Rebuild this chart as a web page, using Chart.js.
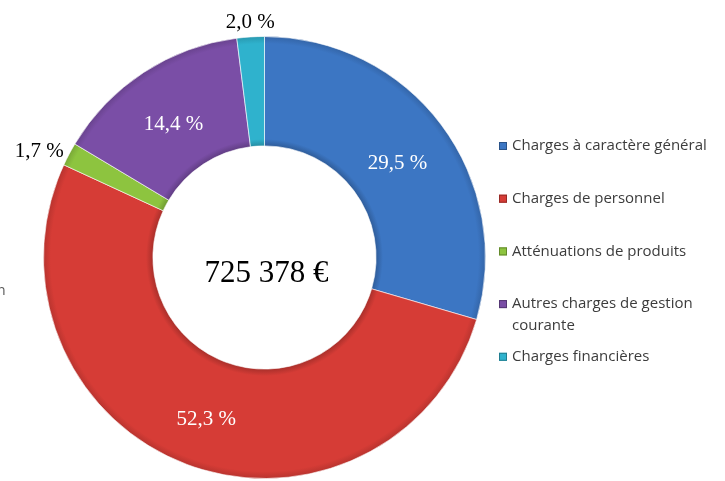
<!DOCTYPE html>
<html>
<head>
<meta charset="utf-8">
<script src="https://cdn.jsdelivr.net/npm/chart.js@4"></script>
<style>
  html, body { margin: 0; padding: 0; background: #fff; }
  canvas { display: block; }
</style>
</head>
<body>
<canvas id="chart" width="725" height="481"></canvas>
<script>
// values (share of the total, in %)
const categories = [
  'Charges à caractère général',
  'Charges de personnel',
  'Atténuations de produits',
  'Autres charges de gestion courante',
  'Charges financières'
];
const shares = [29.5, 52.3, 1.7, 14.4, 2.0];
const total = 725378;

const colors = ['#3c76c3', '#d63c36', '#8dc43f', '#7a4ea6', '#2fb2cd'];

function fmtPct(v) {
  return v.toFixed(1).replace('.', ',') + ' %';
}
function fmtTotal(v) {
  return String(v).replace(/\B(?=(\d{3})+(?!\d))/g, ' ') + ' €';
}

function shade(hex, f) {
  const n = parseInt(hex.slice(1), 16);
  let r = n >> 16, g = (n >> 8) & 255, b = n & 255;
  r = Math.round(r * f); g = Math.round(g * f); b = Math.round(b * f);
  return `rgb(${Math.min(r, 255)},${Math.min(g, 255)},${Math.min(b, 255)})`;
}

// labels on / around the ring + total in the hole
const labelsPlugin = {
  id: 'ringLabels',
  afterDatasetsDraw(chart) {
    const ctx = chart.ctx;
    const meta = chart.getDatasetMeta(0);
    ctx.save();
    meta.data.forEach((arc, i) => {
      const p = arc.getProps(['x', 'y', 'startAngle', 'endAngle', 'innerRadius', 'outerRadius'], true);
      const mid = (p.startAngle + p.endAngle) / 2;
      const dx = Math.cos(mid), dy = Math.sin(mid);
      const txt = fmtPct(shares[i]);
      ctx.font = '21px "Liberation Serif", serif';
      if (shares[i] >= 5) {
        const r = (p.innerRadius + p.outerRadius) / 2;
        ctx.fillStyle = '#ffffff';
        ctx.textAlign = 'center';
        ctx.textBaseline = 'middle';
        ctx.fillText(txt, p.x + dx * r, p.y + dy * r + 6);
      } else {
        const r = p.outerRadius + 6;
        ctx.fillStyle = '#000000';
        ctx.textAlign = Math.abs(dx) < 0.3 ? 'center' : (dx < 0 ? 'right' : 'left');
        ctx.textBaseline = Math.abs(dy) < 0.7 ? 'middle' : (dy < 0 ? 'bottom' : 'top');
        ctx.fillText(txt, p.x + dx * r, p.y + dy * r + (ctx.textBaseline === 'bottom' ? 2 : 0));
      }
    });
    const a0 = meta.data[0];
    ctx.fillStyle = '#000000';
    ctx.font = '31px "Liberation Serif", serif';
    ctx.textAlign = 'center';
    ctx.textBaseline = 'middle';
    ctx.fillText(fmtTotal(total), a0.x + 2, a0.y + 16);
    ctx.restore();
  }
};

// legend on the right, with wrapped labels
const legendPlugin = {
  id: 'sideLegend',
  afterDraw(chart) {
    const ctx = chart.ctx;
    const x0 = 499, y0 = 146, step = 52.7, lineH = 22, maxW = 212;
    ctx.save();
    ctx.font = '15px "Open Sans", Lato, sans-serif';
    ctx.textBaseline = 'middle';
    ctx.textAlign = 'left';
    categories.forEach((label, i) => {
      const y = y0 + i * step;
      ctx.fillStyle = colors[i];
      ctx.fillRect(x0, y - 4, 8, 8);
      ctx.strokeStyle = shade(colors[i], 0.7);
      ctx.lineWidth = 1;
      ctx.strokeRect(x0 + 0.5, y - 3.5, 7, 7);
      // wrap
      const words = label.split(' ');
      const lines = [];
      let cur = '';
      words.forEach(w => {
        const t = cur ? cur + ' ' + w : w;
        if (ctx.measureText(t).width > maxW && cur) { lines.push(cur); cur = w; }
        else cur = t;
      });
      lines.push(cur);
      ctx.fillStyle = '#3c3c3c';
      lines.forEach((ln, k) => ctx.fillText(ln, x0 + 13, y + k * lineH));
    });
    // cut-off text fragment at the left border
    ctx.fillStyle = '#555555';
    ctx.font = '14px "Open Sans", sans-serif';
    ctx.fillText('n', -3, 291);
    ctx.restore();
  }
};

new Chart(document.getElementById('chart'), {
  type: 'doughnut',
  data: {
    labels: categories,
    datasets: [{
      data: shares,
      backgroundColor: function (context) {
        const i = context.dataIndex;
        const base = colors[i];
        const chart = context.chart;
        const area = chart.chartArea;
        if (!area) return base;
        const cx = (area.left + area.right) / 2;
        const cy = (area.top + area.bottom) / 2;
        const outer = Math.min(area.right - area.left, area.bottom - area.top) / 2;
        const inner = outer * 0.505;
        const g = chart.ctx.createRadialGradient(cx, cy, inner, cx, cy, outer);
        g.addColorStop(0, shade(base, 0.8));
        g.addColorStop(0.06, base);
        g.addColorStop(0.93, base);
        g.addColorStop(1, shade(base, 0.85));
        return g;
      },
      borderColor: 'rgba(255,255,255,0.6)',
      borderWidth: 1
    }]
  },
  options: {
    responsive: false,
    animation: false,
    cutout: '50.5%',
    rotation: 0,
    layout: {
      padding: { left: 43, top: 36, right: 239, bottom: 2 }
    },
    plugins: {
      legend: { display: false },
      tooltip: { enabled: false }
    }
  },
  plugins: [labelsPlugin, legendPlugin]
});
</script>
</body>
</html>
